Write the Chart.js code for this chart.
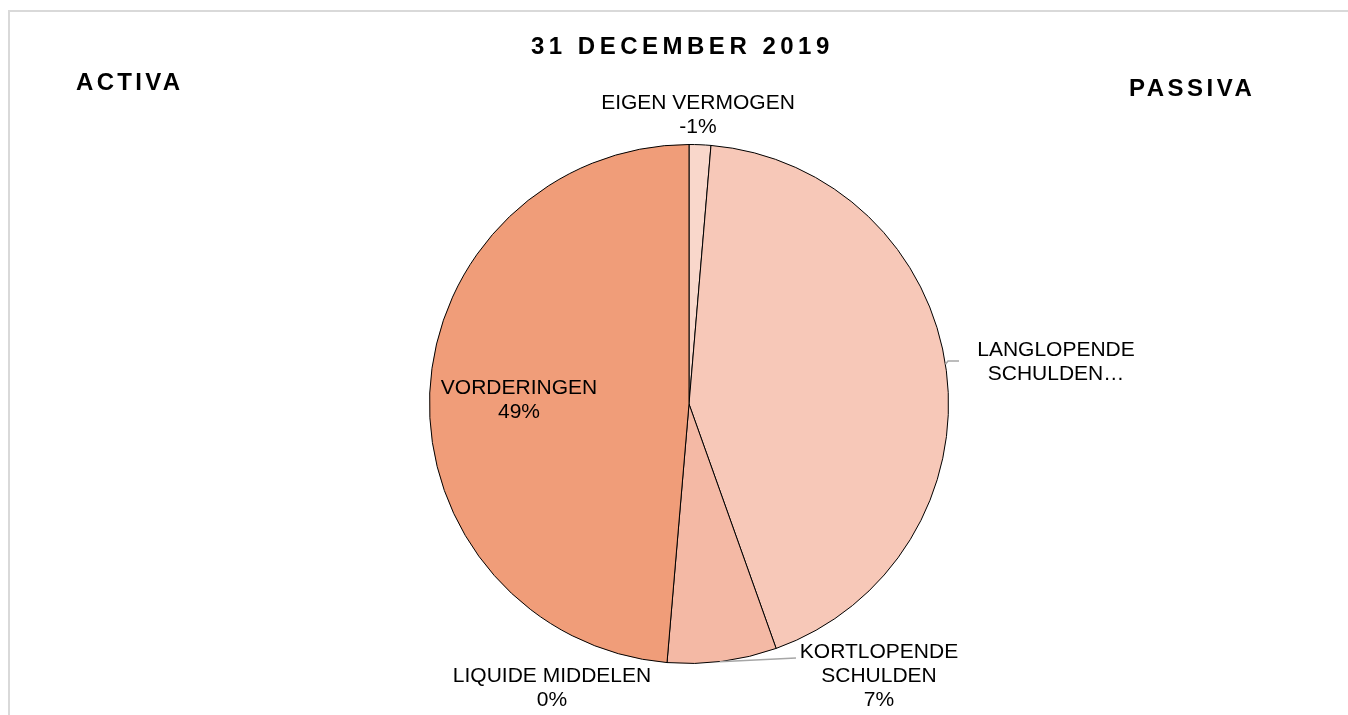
<!DOCTYPE html>
<html>
<head>
<meta charset="utf-8">
<script src="https://cdn.jsdelivr.net/npm/chart.js@4.4.1/dist/chart.umd.min.js"></script>
<style>
  html, body { margin: 0; padding: 0; background: #fff; overflow: hidden; }
  body { width: 1348px; height: 715px; position: relative; font-family: "Liberation Sans", Arial, sans-serif; }
  #frame { position: absolute; left: 8px; top: 10px; width: 1340px; height: 705px; border-top: 2px solid #d9d9d9; border-left: 2px solid #d9d9d9; box-sizing: border-box; }
  #wrap { position: absolute; left: 0; top: 0; width: 1348px; height: 715px; }
  .hd { position: absolute; font-weight: bold; color: #000; white-space: nowrap; line-height: 1; }
  #title { left: 531px; top: 34px; font-size: 24px; letter-spacing: 4.5px; }
  #activa { left: 76px; top: 70px; font-size: 24px; letter-spacing: 3.3px; }
  #passiva { left: 1129px; top: 76px; font-size: 24px; letter-spacing: 3.5px; }
</style>
</head>
<body>
<div id="frame"></div>
<div id="wrap"><canvas id="pieChart"></canvas></div>
<div class="hd" id="title">31 DECEMBER 2019</div>
<div class="hd" id="activa">ACTIVA</div>
<div class="hd" id="passiva">PASSIVA</div>
<script>
// Balance split at 31 December 2019 (share of total, in %)
const categories = [
  "EIGEN VERMOGEN",
  "LANGLOPENDE SCHULDEN",
  "KORTLOPENDE SCHULDEN",
  "LIQUIDE MIDDELEN",
  "VORDERINGEN",
];
const values = [-1.35, 43.2, 6.8, 0, 48.65];
const sliceColors = ["#f9d7cb", "#f7c8b8", "#f4b9a5", "#f2ab8f", "#f09d79"];

// label lines as shown in the chart (long label is cut off)
const labelLines = [
  ["EIGEN VERMOGEN", Math.round(values[0]) + "%"],
  ["LANGLOPENDE", "SCHULDEN\u2026"],
  ["KORTLOPENDE", "SCHULDEN", Math.round(values[2]) + "%"],
  ["LIQUIDE MIDDELEN", Math.round(values[3]) + "%"],
  ["VORDERINGEN", Math.round(values[4]) + "%"],
];

// where the data labels sit (center x, first line y) and their leader lines
const labelPos = [
  { x: 698, y: 103 },
  { x: 1056, y: 350 },
  { x: 879, y: 652 },
  { x: 552, y: 676 },
  { x: 519, y: 388 },
];
const leaders = [
  null,
  { angle: 81.2, points: [[948, 361], [959, 361]] },
  { angle: 173.2, points: [[796, 658]] },
  null,
  null,
];

const dataLabels = {
  id: "dataLabels",
  afterDatasetsDraw(chart) {
    const c = chart.ctx;
    const arc = chart.getDatasetMeta(0).data[0];
    const cx = arc.x, cy = arc.y, r = arc.outerRadius;
    c.save();
    // leader lines
    c.strokeStyle = "#a6a6a6";
    c.lineWidth = 1.5;
    leaders.forEach((ld) => {
      if (!ld) return;
      const a = (ld.angle * Math.PI) / 180;
      c.beginPath();
      c.moveTo(cx + r * Math.sin(a), cy - r * Math.cos(a));
      ld.points.forEach((p) => c.lineTo(p[0], p[1]));
      c.stroke();
    });
    // texts
    c.fillStyle = "#000";
    c.font = "21px 'Liberation Sans', Arial, sans-serif";
    c.textAlign = "center";
    c.textBaseline = "middle";
    labelLines.forEach((lines, i) => {
      lines.forEach((t, j) => {
        c.fillText(t, labelPos[i].x, labelPos[i].y + j * 24);
      });
    });
    c.restore();
  },
};

const ctx = document.getElementById("pieChart").getContext("2d");
new Chart(ctx, {
  type: "pie",
  data: {
    labels: categories,
    datasets: [
      {
        data: values.map((v) => Math.abs(v)),
        backgroundColor: sliceColors,
        borderColor: "#000000",
        borderWidth: 1,
        hoverOffset: 0,
        offset: 0,
      },
    ],
  },
  options: {
    responsive: true,
    maintainAspectRatio: false,
    animation: false,
    events: [],
    layout: {
      padding: { top: 144, bottom: 51, left: 389, right: 359 },
    },
    plugins: {
      legend: { display: false },
      tooltip: { enabled: false },
    },
  },
  plugins: [dataLabels],
});
</script>
</body>
</html>
